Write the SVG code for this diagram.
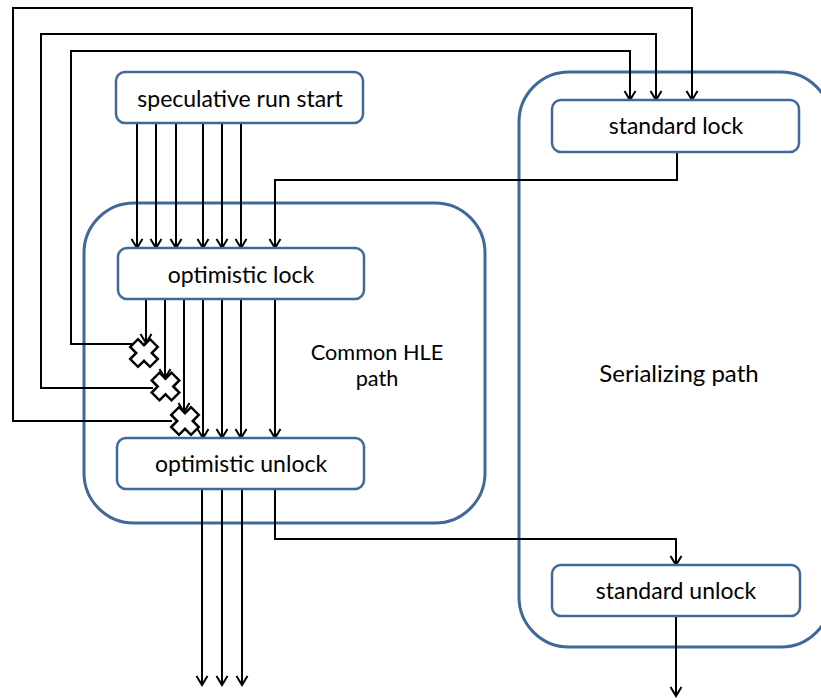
<svg xmlns="http://www.w3.org/2000/svg" width="821" height="698" viewBox="0 0 821 698">
  <defs>
    <style>
      .region { fill: none; stroke: #41689a; stroke-width: 3; }
      .box { fill: #ffffff; stroke: #41689a; stroke-width: 2.5; }
      .label { font-family: Lato, "Open Sans", "Liberation Sans", sans-serif; font-size: 23px; fill: #000000; text-anchor: middle; }
      .wire { fill: none; stroke: #000000; stroke-width: 2; marker-end: url(#arrow); }
      .abort { fill: #ffffff; stroke: #000000; stroke-width: 2.5; stroke-linejoin: miter; }
    </style>
    <marker id="arrow" markerWidth="14" markerHeight="14" refX="0" refY="0" viewBox="-11 -7 14 14" orient="auto" markerUnits="userSpaceOnUse">
      <path d="M-9,-5.5 L0,0 L-9,5.5" fill="none" stroke="#000000" stroke-width="2"/>
    </marker>
    <!-- abort cross: a plus sign turned 45 degrees -->
    <polygon id="xmark" points="5.5,-14 5.5,-5.5 14,-5.5 14,5.5 5.5,5.5 5.5,14 -5.5,14 -5.5,5.5 -14,5.5 -14,-5.5 -5.5,-5.5 -5.5,-14" transform="rotate(45)"/>
  </defs>

  <!-- path regions -->
  <g id="region-hle">
    <rect class="region" x="84" y="203" width="401" height="320" rx="50"/>
    <text class="label" x="377" y="360" style="font-size:21.7px">Common HLE</text>
    <text class="label" x="377" y="386" style="font-size:21.7px">path</text>
  </g>
  <g id="region-serial">
    <rect class="region" x="519" y="72" width="312" height="575" rx="50"/>
    <text class="label" x="679" y="382" style="font-size:24px">Serializing path</text>
  </g>

  <!-- connectors -->
  <g id="connectors">
    <!-- speculative run start -> optimistic lock -->
    <path class="wire" d="M137,123 V248"/>
    <path class="wire" d="M156,123 V248"/>
    <path class="wire" d="M176,123 V248"/>
    <path class="wire" d="M203,123 V248"/>
    <path class="wire" d="M222,123 V248"/>
    <path class="wire" d="M241,123 V248"/>
    <!-- standard lock -> optimistic lock -->
    <path class="wire" d="M677,152 V180 H275 V248"/>
    <!-- aborted runs fall back to standard lock -->
    <path class="wire" d="M133,344 H71 V51 H630 V100"/>
    <path class="wire" d="M153,388 H41 V34 H656 V100"/>
    <path class="wire" d="M172,421 H13 V8 H692 V100"/>
    <!-- optimistic lock -> optimistic unlock -->
    <path class="wire" d="M203,299 V438"/>
    <path class="wire" d="M222,299 V438"/>
    <path class="wire" d="M241,299 V438"/>
    <path class="wire" d="M275,299 V438"/>
    <!-- optimistic unlock -> exit / standard unlock -->
    <path class="wire" d="M202,489 V685"/>
    <path class="wire" d="M222,489 V685"/>
    <path class="wire" d="M242,489 V685"/>
    <path class="wire" d="M275,489 V539 H676 V565"/>
    <!-- standard unlock -> exit -->
    <path class="wire" d="M676,616 V696"/>
  </g>

  <!-- abort points -->
  <g id="abort-1">
    <use href="#xmark" class="abort" transform="translate(144,353)"/>
    <path class="wire" d="M146,299 V343"/>
  </g>
  <g id="abort-2">
    <use href="#xmark" class="abort" transform="translate(165.5,386.5)"/>
    <path class="wire" d="M165,299 V378"/>
  </g>
  <g id="abort-3">
    <use href="#xmark" class="abort" transform="translate(185,421)"/>
    <path class="wire" d="M184,299 V412"/>
  </g>

  <!-- nodes -->
  <g id="speculative-run-start">
    <rect class="box" x="116" y="72" width="247" height="51" rx="9"/>
    <text class="label" x="240" y="107">speculative run start</text>
  </g>
  <g id="standard-lock">
    <rect class="box" x="552" y="100" width="247" height="52" rx="9"/>
    <text class="label" x="676" y="134">standard lock</text>
  </g>
  <g id="optimistic-lock">
    <rect class="box" x="118" y="248" width="246" height="51" rx="9"/>
    <text class="label" x="241" y="283">optimistic lock</text>
  </g>
  <g id="optimistic-unlock">
    <rect class="box" x="117" y="438" width="247" height="51" rx="9"/>
    <text class="label" x="241" y="472">optimistic unlock</text>
  </g>
  <g id="standard-unlock">
    <rect class="box" x="552" y="565" width="248" height="51" rx="9"/>
    <text class="label" x="676" y="599">standard unlock</text>
  </g>
</svg>
